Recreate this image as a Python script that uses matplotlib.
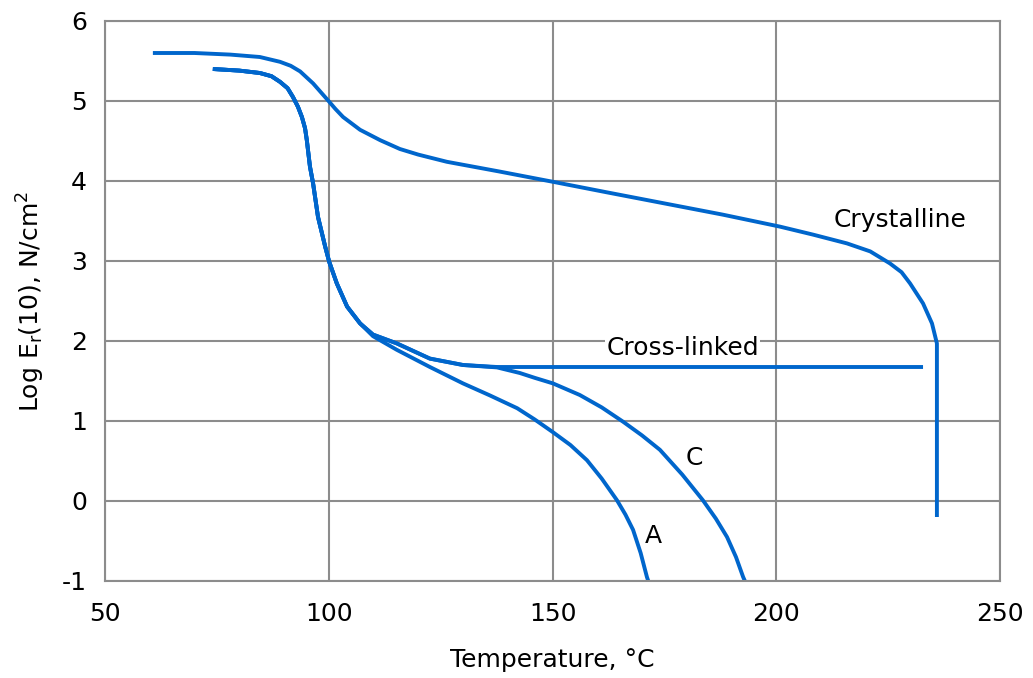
import matplotlib
matplotlib.use("Agg")
import matplotlib.pyplot as plt

# Crystalline sample
cryst_t = [60.7, 70, 78, 84.6, 89.1, 91.5, 93.6, 96.5, 99.8, 101.5, 103.2,
           107.0, 111.5, 115.9, 120, 126.4, 138, 150.1, 162, 175, 188, 200.8,
           208.2, 215.8, 221.0, 225.4, 228.0, 229.9, 232.8, 234.8, 235.9, 235.9]
cryst_e = [5.60, 5.60, 5.58, 5.55, 5.49, 5.44, 5.37, 5.22, 5.01, 4.90, 4.80,
           4.64, 4.51, 4.40, 4.33, 4.24, 4.12, 3.99, 3.86, 3.72, 3.58, 3.43,
           3.33, 3.22, 3.12, 2.97, 2.86, 2.72, 2.47, 2.22, 1.97, -0.2]

# common stem shared by A, C and cross-linked
stem_t = [74.1, 80, 84.6, 87.2, 89.1, 90.8, 92.0, 93.1, 94.0, 94.7, 95.1,
          95.8, 96.5, 97.6, 99.2, 100.1, 101.8, 104.1, 107.0]
stem_e = [5.40, 5.38, 5.35, 5.31, 5.24, 5.16, 5.05, 4.93, 4.80, 4.66, 4.51,
          4.18, 3.97, 3.55, 3.18, 2.99, 2.72, 2.43, 2.22]

# cross-linked branch
xl_t = [109.9, 115.2, 122.6, 130.0, 137.6, 232.8]
xl_e = [2.08, 1.97, 1.78, 1.70, 1.675, 1.675]

# curve C branch (leaves the cross-linked plateau)
c_t = [109.9, 115.2, 122.6, 130.0, 137.6, 142.7, 146.0, 150.1, 153.0, 156.1,
       161.0, 165.8, 170.0, 174.0, 179.0, 183.6, 186.5, 189.0, 191.0, 192.6,
       193.0]
c_e = [2.08, 1.97, 1.78, 1.70, 1.67, 1.60, 1.54, 1.47, 1.40, 1.325,
       1.17, 0.99, 0.82, 0.64, 0.33, 0.01, -0.22, -0.45, -0.70, -0.95, -1.0]

# curve A branch
a_t = [109.9, 115.2, 122.6, 130.0, 136.0, 142.1, 146.0, 150.1, 154.0, 157.7,
       161.0, 164.4, 166.3, 168.0, 169.7, 171.1, 171.4]
a_e = [2.06, 1.89, 1.675, 1.47, 1.32, 1.16, 1.02, 0.86, 0.70, 0.51,
       0.28, 0.01, -0.17, -0.36, -0.65, -0.95, -1.0]

x_ticks = [50, 100, 150, 200, 250]
y_ticks = [-1, 0, 1, 2, 3, 4, 5, 6]

plt.rcParams["font.family"] = ["DejaVu Sans"]
plt.rcParams["axes.unicode_minus"] = False
blue = "#0066CC"
grid = "#8c8c8c"
fs = 18

fig = plt.figure(figsize=(10.33, 6.78), dpi=100)
ax = fig.add_axes([105 / 1033, 1 - 581 / 678, 895 / 1033, 560 / 678])

lw = 2.8
for t, e in [(cryst_t, cryst_e), (stem_t + xl_t, stem_e + xl_e),
             (stem_t + c_t, stem_e + c_e), (stem_t + a_t, stem_e + a_e)]:
    ax.plot(t, e, color=blue, lw=lw, solid_joinstyle="round",
            solid_capstyle="butt")

ax.set_xlim(50, 250)
ax.set_ylim(-1, 6)
ax.set_xticks(x_ticks)
ax.set_yticks(y_ticks)
ax.grid(True, color=grid, lw=1.5)
ax.set_axisbelow(True)
for s in ax.spines.values():
    s.set_color(grid)
    s.set_linewidth(1.5)
ax.tick_params(length=0, labelsize=fs, colors="black")
ax.tick_params(axis="y", pad=13)
ax.tick_params(axis="x", pad=15)

ax.set_xlabel("Temperature, °C", fontsize=fs, labelpad=16)
ax.set_ylabel(r"Log E$_\mathregular{r}$(10), N/cm$^\mathregular{2}$", fontsize=fs,
              labelpad=11)

ax.text(227.6, 3.43, "Crystalline", fontsize=fs, ha="center", va="baseline")
ax.text(179.05, 1.825, "Cross-linked", fontsize=fs, ha="center", va="baseline",
        bbox=dict(facecolor="white", edgecolor="none", pad=0.5))
ax.text(181.8, 0.45, "C", fontsize=fs, ha="center", va="baseline")
ax.text(172.5, -0.525, "A", fontsize=fs, ha="center", va="baseline")

fig.savefig("out.png", dpi=100)
